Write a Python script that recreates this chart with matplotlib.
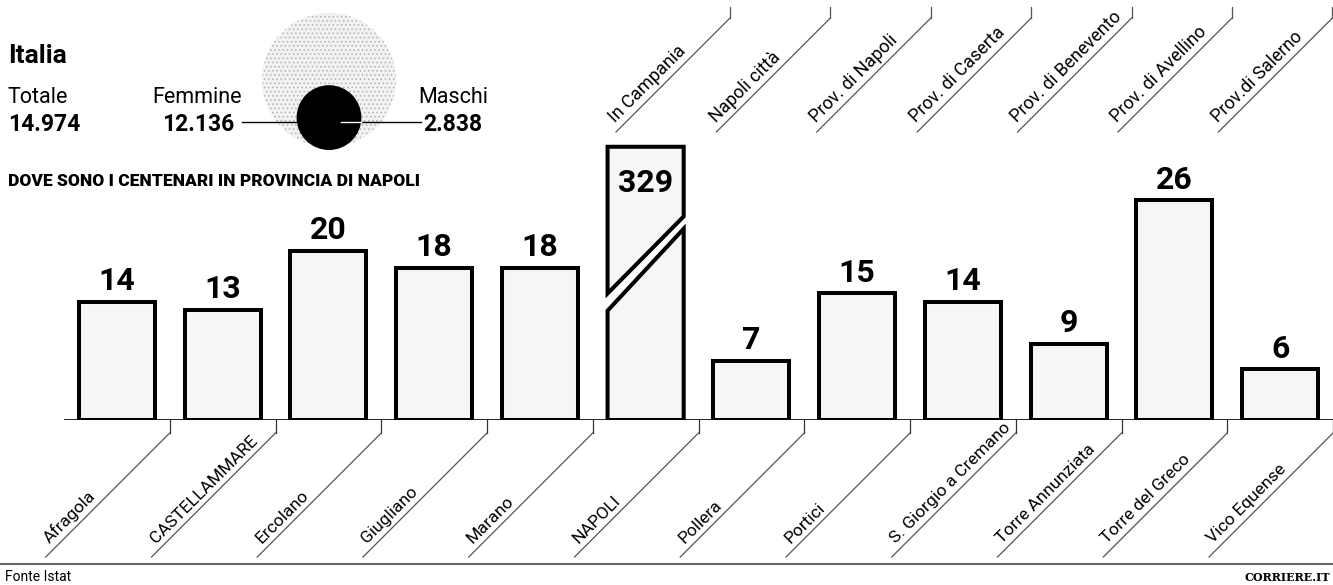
import numpy as np
import matplotlib.pyplot as plt
from matplotlib.patches import Circle, Polygon

plt.rcParams['font.family'] = ['Roboto', 'DejaVu Sans']
plt.rcParams['hatch.linewidth'] = 0.6

# Dati
comuni = ["Afragola", "CASTELLAMMARE", "Ercolano", "Giugliano", "Marano", "NAPOLI",
          "Pollera", "Portici", "S. Giorgio a Cremano", "Torre Annunziata",
          "Torre del Greco", "Vico Equense"]
centenari = [14, 13, 20, 18, 18, 329, 7, 15, 14, 9, 26, 6]

colonne = ["In Campania", "Napoli città", "Prov. di Napoli", "Prov. di Caserta",
           "Prov. di Benevento", "Prov. di Avellino", "Prov.di Salerno"]

totale = 14974
femmine = 12136
maschi = 2838

# altezza disegnata della barra fuori scala (Napoli)
tetto = 32.3


def punti(n):
    return f"{n:,}".replace(",", ".")


fig = plt.figure(figsize=(13.33, 5.85), dpi=100)

# livello "carta": coordinate in pixel, y verso il basso
ov = fig.add_axes([0, 0, 1, 1])
ov.set_xlim(0, 1333)
ov.set_ylim(585, 0)
ov.axis('off')

# Grafico a barre
ax = fig.add_axes([64 / 1333, 165 / 585, 1269 / 1333, 280 / 585])
ax.patch.set_alpha(0)
ax.set_xlim(-0.5, 11.5)
ax.set_ylim(0, 33.1)
ax.axis('off')

w = 0.72
fondo = '#f6f6f6'
for i, v in enumerate(centenari):
    if v <= tetto:
        ax.bar(i, v, width=w, color=fondo, edgecolor='black', lw=2.9,
               joinstyle='miter')
        ax.annotate(str(v), (i, v), xytext=(0, 4), textcoords='offset points',
                    ha='center', va='bottom', fontsize=23, weight='bold')
    else:
        x0, x1 = i - w / 2, i + w / 2
        sopra = Polygon([(x0, tetto), (x1, tetto), (x1, tetto * 0.745), (x0, tetto * 0.463)],
                        closed=True, facecolor=fondo, edgecolor='black', lw=2.9,
                        joinstyle='miter')
        sotto = Polygon([(x0, 0), (x1, 0), (x1, tetto * 0.70), (x0, tetto * 0.40)],
                        closed=True, facecolor=fondo, edgecolor='black', lw=2.9,
                        joinstyle='miter')
        ax.add_patch(sopra)
        ax.add_patch(sotto)
        ax.annotate(str(v), (i, tetto), xytext=(0, -15), textcoords='offset points',
                    ha='center', va='top', fontsize=23, weight='bold')

ax.axhline(0, color='black', lw=1.2, zorder=0)

# etichette in basso, inclinate
fig.canvas.draw()
r = np.sqrt(0.5)
for i, nome in enumerate(comuni):
    px, py = ax.transData.transform((i + 0.5, 0))
    yt = 585 - py
    ov.plot([px, px], [yt, yt + 13], color='#333333', lw=0.9)
    d = 557 - (yt + 13)
    bx, by = px - d, 557
    ov.plot([px, bx], [yt + 13, by], color='#555555', lw=0.9)
    s, p = 12, 3
    ov.text(bx + s * r - p * r, by - s * r - p * r, nome, rotation=45,
            rotation_mode='anchor', ha='left', va='bottom', fontsize=12.5)

# intestazioni in alto
for k, col in enumerate(colonne):
    tx = 730 + 100.4 * k
    ov.plot([tx, tx], [7, 18], color='#555555', lw=0.9)
    bx, by = tx - 114, 132
    ov.plot([tx, bx], [18, by], color='#555555', lw=0.9)
    s, p = 6, 3
    ov.text(bx + s * r - p * r, by - s * r - p * r, col, rotation=45,
            rotation_mode='anchor', ha='left', va='bottom', fontsize=13)

# Italia
ov.text(8, 63, "Italia", fontsize=19, weight='bold')
ov.text(8, 103, "Totale", fontsize=15.5)
ov.text(8, 131, punti(totale), fontsize=16.5, weight='bold')
ov.text(152, 103, "Femmine", fontsize=15.5)
ov.text(162, 131, punti(femmine), fontsize=16.5, weight='bold')
ov.text(418, 103, "Maschi", fontsize=15.5)
ov.text(423, 131, punti(maschi), fontsize=16.5, weight='bold')

r_f = 67
r_m = r_f * np.sqrt(maschi / femmine)
cx = 329
ov.add_patch(Circle((cx, 80), r_f, facecolor='#f2f2f2', edgecolor='#b0b0b0',
                    hatch='....', lw=0, zorder=2))
cy_m = 80 + r_f - r_m + 3
ov.add_patch(Circle((cx, cy_m), r_m, facecolor='black', edgecolor='none', zorder=4))
ov.plot([242, cx - r_m + 2], [122, 122], color='black', lw=1, zorder=3)
ov.plot([cx + 10, 421], [122, 122], color='black', lw=1, zorder=3)
ov.plot([cx + 12, cx + r_m], [122, 122], color='white', lw=1, zorder=5)

ov.text(8, 186, "DOVE SONO I CENTENARI IN PROVINCIA DI NAPOLI", fontsize=12.5,
        weight='black')

# piede
ov.plot([0, 1333], [564, 564], color='#666666', lw=1.5)
ov.text(5, 581, "Fonte Istat", fontsize=10)
ov.text(1330, 581, "CORRIERE.IT", fontsize=8, weight='bold', ha='right',
        family='DejaVu Serif')

fig.savefig('out.png', dpi=100)
